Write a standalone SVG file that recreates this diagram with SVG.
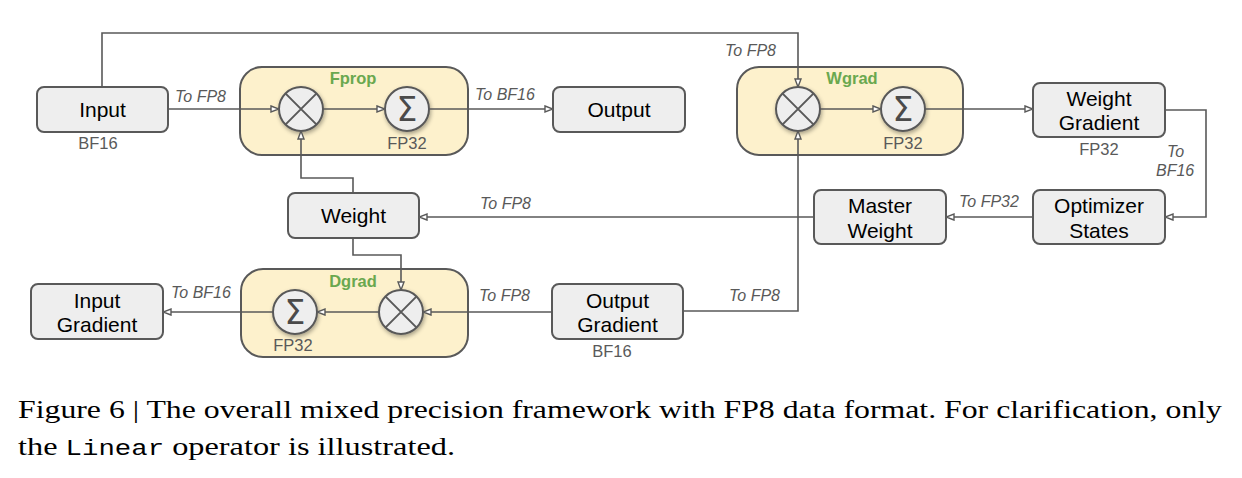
<svg xmlns="http://www.w3.org/2000/svg" width="1242" height="478" viewBox="0 0 1242 478">
<style>
.box{fill:#eeeeee;stroke:#595959;stroke-width:2}
.grp{fill:#fdf1cc;stroke:#595959;stroke-width:2}
.op{fill:#eeeeee;stroke:#595959;stroke-width:2}
.x{stroke:#595959;stroke-width:2;fill:none}
.ln{fill:none;stroke:#595959;stroke-width:1.6}
.t{font-family:Arial,"Liberation Sans",sans-serif;font-size:21px;fill:#000;text-anchor:middle}
.s{font-family:Arial,"Liberation Sans",sans-serif;font-size:16.5px;fill:#595959;text-anchor:middle}
.i{font-family:Arial,"Liberation Sans",sans-serif;font-size:16px;fill:#595959;font-style:italic}
.g{font-family:Arial,"Liberation Sans",sans-serif;font-size:16.5px;fill:#6aa84f;font-weight:bold;text-anchor:middle}
.sig{font-family:"DejaVu Sans",sans-serif;font-size:33px;fill:#4a4a4a;text-anchor:middle}
.cap{font-family:"Liberation Serif",serif;font-size:26px;fill:#000}
</style>
<defs>
<marker id="ar" markerWidth="10" markerHeight="8" refX="9" refY="4" orient="auto" markerUnits="userSpaceOnUse">
<path d="M1,1 L9,4 L1,7 Z" fill="#fff" stroke="#595959" stroke-width="1.4"/>
</marker>
<filter id="sh" x="-30%" y="-30%" width="160%" height="160%">
<feGaussianBlur in="SourceAlpha" stdDeviation="2"/>
<feOffset dx="1" dy="1.5"/>
<feComponentTransfer><feFuncA type="linear" slope="0.35"/></feComponentTransfer>
<feMerge><feMergeNode/><feMergeNode in="SourceGraphic"/></feMerge>
</filter>
</defs>

<g id="fprop">
<rect class="grp" x="240" y="67" width="228" height="88" rx="22"/>
<text class="g" x="353" y="84">Fprop</text>
<g filter="url(#sh)"><circle class="op" cx="301" cy="109" r="22"/></g>
<path class="x" d="M285.4,93.4 L316.6,124.6 M316.6,93.4 L285.4,124.6"/>
<g filter="url(#sh)"><circle class="op" cx="407" cy="109" r="22"/></g>
<text class="sig" x="407" y="121">Σ</text>
<text class="s" x="407" y="149">FP32</text>
</g>

<g id="wgrad">
<rect class="grp" x="737" y="67" width="226" height="88" rx="22"/>
<text class="g" x="852" y="84">Wgrad</text>
<g filter="url(#sh)"><circle class="op" cx="798" cy="109" r="22"/></g>
<path class="x" d="M782.4,93.4 L813.6,124.6 M813.6,93.4 L782.4,124.6"/>
<g filter="url(#sh)"><circle class="op" cx="903" cy="109" r="22"/></g>
<text class="sig" x="903" y="121">Σ</text>
<text class="s" x="903" y="149">FP32</text>
</g>

<g id="dgrad">
<rect class="grp" x="241" y="269" width="227" height="88" rx="22"/>
<text class="g" x="353" y="287">Dgrad</text>
<g filter="url(#sh)"><circle class="op" cx="401" cy="312" r="22"/></g>
<path class="x" d="M385.4,296.4 L416.6,327.6 M416.6,296.4 L385.4,327.6"/>
<g filter="url(#sh)"><circle class="op" cx="295" cy="312" r="22"/></g>
<text class="sig" x="295" y="324">Σ</text>
<text class="s" x="293" y="351">FP32</text>
</g>

<g id="input">
<rect class="box" x="37" y="87" width="131" height="45" rx="7"/>
<text class="t" x="102.5" y="117">Input</text>
<text class="s" x="98" y="149">BF16</text>
</g>

<g id="output">
<rect class="box" x="553" y="87" width="132" height="45" rx="7"/>
<text class="t" x="619" y="117">Output</text>
</g>

<g id="weight-gradient">
<rect class="box" x="1033" y="83" width="132" height="54" rx="7"/>
<text class="t" x="1099" y="106">Weight</text>
<text class="t" x="1099" y="130">Gradient</text>
<text class="s" x="1099" y="155">FP32</text>
</g>

<g id="optimizer-states">
<rect class="box" x="1033" y="190" width="132" height="54" rx="7"/>
<text class="t" x="1099" y="213">Optimizer</text>
<text class="t" x="1099" y="238">States</text>
</g>

<g id="master-weight">
<rect class="box" x="814" y="190" width="132" height="54" rx="7"/>
<text class="t" x="880" y="213">Master</text>
<text class="t" x="880" y="238">Weight</text>
</g>

<g id="weight">
<rect class="box" x="288" y="193" width="131" height="45" rx="7"/>
<text class="t" x="353.5" y="223">Weight</text>
</g>

<g id="output-gradient">
<rect class="box" x="552" y="284" width="131" height="55" rx="7"/>
<text class="t" x="617.5" y="308">Output</text>
<text class="t" x="617.5" y="332">Gradient</text>
<text class="s" x="612" y="357">BF16</text>
</g>

<g id="input-gradient">
<rect class="box" x="31" y="284" width="132" height="55" rx="7"/>
<text class="t" x="97" y="308">Input</text>
<text class="t" x="97" y="332">Gradient</text>
</g>

<g id="connectors">
<path class="ln" d="M168,109 L279,109" marker-end="url(#ar)"/>
<path class="ln" d="M323,109 L385,109" marker-end="url(#ar)"/>
<path class="ln" d="M429,109 L553,109" marker-end="url(#ar)"/>
<path class="ln" d="M102,87 L102,33 L798,33 L798,87" marker-end="url(#ar)"/>
<path class="ln" d="M820,109 L881,109" marker-end="url(#ar)"/>
<path class="ln" d="M925,109 L1033,109" marker-end="url(#ar)"/>
<path class="ln" d="M1165,110 L1206,110 L1206,217 L1165,217" marker-end="url(#ar)"/>
<path class="ln" d="M1033,217 L946,217" marker-end="url(#ar)"/>
<path class="ln" d="M814,217 L419,217" marker-end="url(#ar)"/>
<path class="ln" d="M353,193 L353,178 L301,178 L301,131" marker-end="url(#ar)"/>
<path class="ln" d="M353,238 L353,255 L401,255 L401,290" marker-end="url(#ar)"/>
<path class="ln" d="M683,311 L798,311 L798,131" marker-end="url(#ar)"/>
<path class="ln" d="M552,312 L423,312" marker-end="url(#ar)"/>
<path class="ln" d="M379,312 L317,312" marker-end="url(#ar)"/>
<path class="ln" d="M273,312 L163,312" marker-end="url(#ar)"/>
<text class="i" x="175" y="102">To FP8</text>
<text class="i" x="475" y="100">To BF16</text>
<text class="i" x="725" y="56">To FP8</text>
<text class="i" x="1167" y="157">To</text>
<text class="i" x="1156" y="176">BF16</text>
<text class="i" x="959" y="207">To FP32</text>
<text class="i" x="480" y="209">To FP8</text>
<text class="i" x="171" y="298">To BF16</text>
<text class="i" x="479" y="301">To FP8</text>
<text class="i" x="729" y="301">To FP8</text>
</g>

<text class="cap" x="18" y="418" textLength="1204" lengthAdjust="spacingAndGlyphs">Figure 6 | The overall mixed precision framework with FP8 data format. For clarification, only</text>
<text class="cap" x="18" y="455" textLength="437" lengthAdjust="spacingAndGlyphs">the <tspan font-family="'Liberation Mono',monospace" font-size="22">Linear</tspan> operator is illustrated.</text>
</svg>
